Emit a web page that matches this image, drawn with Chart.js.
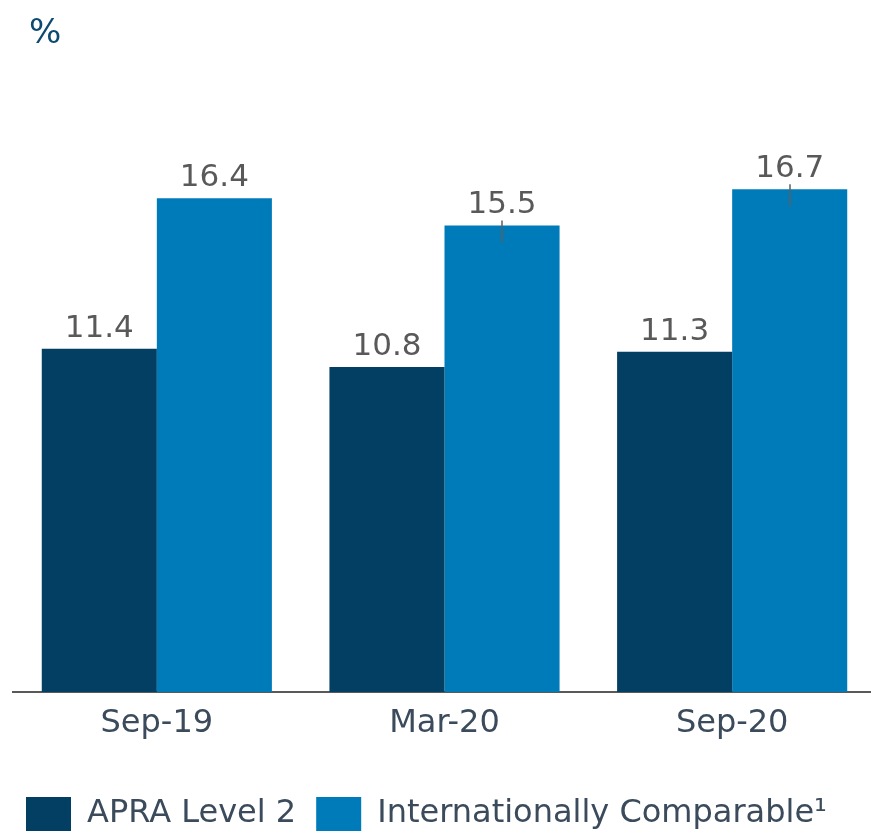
<!DOCTYPE html>
<html>
<head>
<meta charset="utf-8">
<script src="https://cdn.jsdelivr.net/npm/chart.js@4/dist/chart.umd.min.js"></script>
<style>
html,body{margin:0;padding:0;background:#fff;overflow:hidden;}
#wrap{position:relative;width:871px;height:837px;overflow:hidden;}
</style>
</head>
<body>
<div id="wrap"><canvas id="c" width="876" height="837"></canvas></div>
<script>
const categories = ["Sep-19", "Mar-20", "Sep-20"];
const apraLevel2 = [11.4, 10.8, 11.3];
const intlComparable = [16.4, 15.5, 16.7];
const seriesNames = ["APRA Level 2", "Internationally Comparable\u00B9"];
const leaderLines = [[false, false, false], [false, true, true]];
const unitLabel = "%";

const FONT = "'DejaVu Sans', Verdana, sans-serif";

const labelPlugin = {
  id: 'valueLabels',
  afterDatasetsDraw(chart) {
    const ctx = chart.ctx;
    ctx.save();
    chart.data.datasets.forEach((ds, di) => {
      const meta = chart.getDatasetMeta(di);
      meta.data.forEach((bar, i) => {
        if (leaderLines[di][i]) {
          ctx.strokeStyle = "#5a5f66";
          ctx.lineWidth = 1.5;
          ctx.beginPath();
          ctx.moveTo(Math.round(bar.x), bar.y - 5);
          ctx.lineTo(Math.round(bar.x), bar.y + 17);
          ctx.stroke();
        }
        ctx.font = "31px " + FONT;
        ctx.fillStyle = "#595959";
        ctx.textAlign = "center";
        ctx.textBaseline = "alphabetic";
        ctx.fillText(ds.data[i].toFixed(1), bar.x, bar.y - 12);
      });
    });
    ctx.font = "34px " + FONT;
    ctx.fillStyle = "#0d4a70";
    ctx.textAlign = "left";
    ctx.textBaseline = "alphabetic";
    ctx.fillText(unitLabel, 29, 43);
    ctx.restore();
  }
};

new Chart(document.getElementById('c'), {
  type: 'bar',
  data: {
    labels: categories,
    datasets: [
      { label: seriesNames[0], data: apraLevel2, backgroundColor: '#023f63', borderWidth: 0 },
      { label: seriesNames[1], data: intlComparable, backgroundColor: '#007bba', borderWidth: 0 }
    ]
  },
  options: {
    responsive: false,
    animation: false,
    devicePixelRatio: 1,
    layout: { padding: { top: 90, left: 6, right: 0, bottom: -4 } },
    datasets: { bar: { categoryPercentage: 0.80, barPercentage: 1.0 } },
    scales: {
      x: {
        grid: { display: false, drawTicks: false },
        border: { display: true, color: '#595959', width: 2 },
        ticks: { font: { family: FONT, size: 32 }, color: '#3b4b5b', padding: 12 },
        afterFit: (axis) => { axis.height = 85; }
      },
      y: {
        min: 0, max: 20,
        display: true,
        grid: { display: false, drawTicks: false },
        border: { display: false },
        ticks: { display: false },
        afterFit: (axis) => { axis.width = 7; }
      }
    },
    plugins: {
      legend: {
        position: 'bottom',
        align: 'start',
        labels: {
          boxWidth: 45, boxHeight: 34, padding: 20,
          font: { family: FONT, size: 32 }, color: '#3b4b5b'
        }
      },
      tooltip: { enabled: false }
    }
  },
  plugins: [labelPlugin]
});
</script>
</body>
</html>
